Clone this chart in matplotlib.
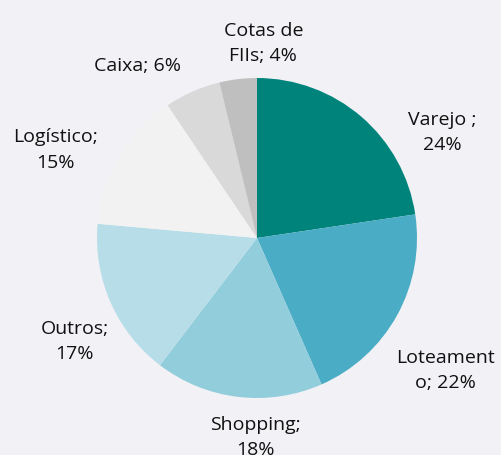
import matplotlib
matplotlib.use("Agg")
import matplotlib.pyplot as plt

categories = ["Varejo ", "Loteamento", "Shopping", "Outros", "Logístico", "Caixa", "Cotas de FIIs"]
values = [24, 22, 18, 17, 15, 6, 4]
label_texts = ["Varejo ;\n24%", "Loteament\no; 22%", "Shopping;\n18%", "Outros;\n17%",
               "Logístico;\n15%", "Caixa; 6%", "Cotas de\nFIIs; 4%"]
colors = ["#00837B", "#4BACC6", "#92CDDC", "#B7DEE8", "#F2F2F2", "#D9D9D9", "#BFBFBF"]
# label centre positions (layout, in pie-radius units)
label_pos = [(1.16, 0.66), (1.18, -0.83), (-0.01, -1.245), (-1.14, -0.645),
             (-1.26, 0.55), (-0.745, 1.075), (0.04, 1.215)]

bg = "#F2F2F6"
fig = plt.figure(figsize=(5.02, 4.55), dpi=100, facecolor=bg)
ax = fig.add_axes([0, 0, 1, 1])
ax.set_facecolor(bg)
wedges, _ = ax.pie(values, colors=colors, startangle=90, counterclock=False,
                   radius=1.0, center=(0, 0), wedgeprops=dict(linewidth=0))
r_px = 160.0
cx, cy = 257.0, 238.0
ax.set_xlim(-cx / r_px, (502 - cx) / r_px)
ax.set_ylim(-(455 - cy) / r_px, cy / r_px)
ax.set_aspect("auto")
ax.axis("off")

for txt, (x, y) in zip(label_texts, label_pos):
    ax.text(x, y, txt, ha="center", va="center", fontsize=14, color="#111111",
            family=["Open Sans", "DejaVu Sans"], linespacing=1.5)

fig.savefig("out.png", dpi=100, facecolor=bg)
